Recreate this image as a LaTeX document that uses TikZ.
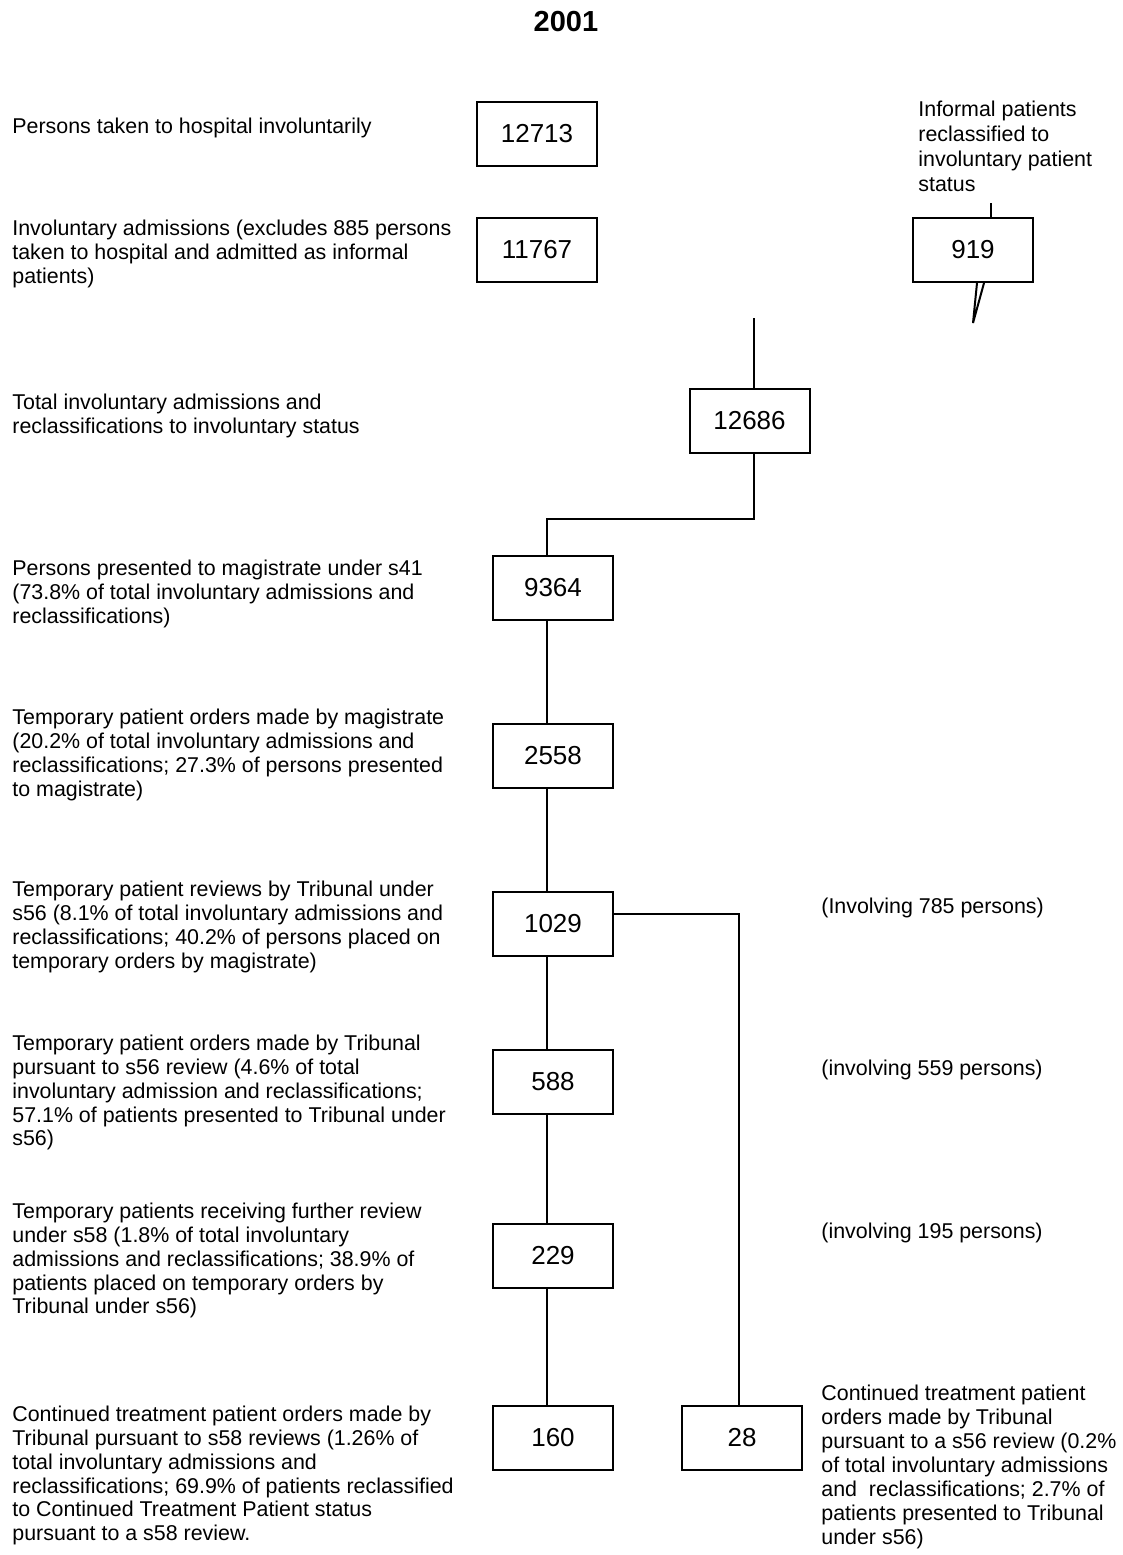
\documentclass[tikz,border=0pt]{standalone}
\usepackage{fontspec}
\setmainfont{Liberation Sans}

\begin{document}
\begin{tikzpicture}[
        x=0.5pt, y=-0.5pt,
        count/.style={draw=black, line width=1pt, minimum width=60pt, minimum height=32pt, inner sep=0pt, font=\fontsize{13}{15}\selectfont},
        note/.style={anchor=north west, align=left, inner sep=0pt, font=\fontsize{10.7}{11.85}\selectfont},
        link/.style={draw=black, line width=1pt}
    ]
    \useasboundingbox (0,0) rectangle (1123,1555);
    % title
    \node[font=\bfseries\fontsize{14.5}{17}\selectfont] (title) at (566,22) {2001};
    % descriptions
    \node[note] (dhosp) at (12,118) {Persons taken to hospital involuntarily};
    \node[note] (dadm) at (12,220) {Involuntary admissions (excludes 885 persons\\taken to hospital and admitted as informal\\patients)};
    \node[note] (dtot) at (12,394) {Total involuntary admissions and\\reclassifications to involuntary status};
    \node[note] (dmag) at (12,560) {Persons presented to magistrate under s41\\(73.8\% of total involuntary admissions and\\reclassifications)};
    \node[note] (dtpo) at (12,709) {Temporary patient orders made by magistrate\\(20.2\% of total involuntary admissions and\\reclassifications; 27.3\% of persons presented\\to magistrate)};
    \node[note] (drev) at (12,881) {Temporary patient reviews by Tribunal under\\s56 (8.1\% of total involuntary admissions and\\reclassifications; 40.2\% of persons placed on\\temporary orders by magistrate)};
    \node[note] (dord) at (12,1035) {Temporary patient orders made by Tribunal\\pursuant to s56 review (4.6\% of total\\involuntary admission and reclassifications;\\57.1\% of patients presented to Tribunal under\\s56)};
    \node[note] (dfur) at (12,1203) {Temporary patients receiving further review\\under s58 (1.8\% of total involuntary\\admissions and reclassifications; 38.9\% of\\patients placed on temporary orders by\\Tribunal under s56)};
    \node[note] (dctl) at (12,1406) {Continued treatment patient orders made by\\Tribunal pursuant to s58 reviews (1.26\% of\\total involuntary admissions and\\reclassifications; 69.9\% of patients reclassified\\to Continued Treatment Patient status\\pursuant to a s58 review.};
    \node[note, font=\fontsize{10.7}{12.5}\selectfont] (dinf) at (918,101) {Informal patients\\reclassified to\\involuntary patient\\status};
    \node[note] (prev) at (821,898) {(Involving 785 persons)};
    \node[note] (pord) at (821,1060) {(involving 559 persons)};
    \node[note] (pfur) at (821,1223) {(involving 195 persons)};
    \node[note, font=\fontsize{10.7}{12}\selectfont] (dctr) at (821,1385) {Continued treatment patient\\orders made by Tribunal\\pursuant to a s56 review (0.2\%\\of total involuntary admissions\\and~ reclassifications; 2.7\% of\\patients presented to Tribunal\\under s56)};
    % boxes
    \node[count] (hosp) at (537,134) {12713};
    \node[count] (adm) at (537,250) {11767};
    \node[count] (inf) at (973,250) {919};
    \node[count] (tot) at (749.5,420.5) {12686};
    \node[count] (mag) at (553,588) {9364};
    \node[count] (tpo) at (553,756) {2558};
    \node[count] (rev) at (553,924) {1029};
    \node[count] (ord) at (553,1082) {588};
    \node[count] (fur) at (553,1256) {229};
    \node[count] (ctl) at (553,1437.5) {160};
    \node[count] (ctr) at (742,1437.5) {28};
    % free ends
    \coordinate (inftop) at (991,203);
    \coordinate (inftip) at (973,323);
    \coordinate (tottop) at (754,318);
    \coordinate (bend) at (754,519);
    \coordinate (spine) at (547,0);
    % lines
    \draw[link] (inftop) -- (inftop |- inf.north);
    \draw[link] ([xshift=2pt]inf.south) -- (inftip) -- ([xshift=5.5pt]inf.south);
    \draw[link] (tottop) -- (tottop |- tot.north);
    \draw[link] (tottop |- tot.south) -- (bend) -| (spine |- mag.north);
    \draw[link] (spine |- mag.south) -- (spine |- tpo.north);
    \draw[link] (spine |- tpo.south) -- (spine |- rev.north);
    \draw[link] (spine |- rev.south) -- (spine |- ord.north);
    \draw[link] (spine |- ord.south) -- (spine |- fur.north);
    \draw[link] (spine |- fur.south) -- (spine |- ctl.north);
    \draw[link] ([yshift=5pt]rev.east) -| ([xshift=-1.5pt]ctr.north);
\end{tikzpicture}
\end{document}
